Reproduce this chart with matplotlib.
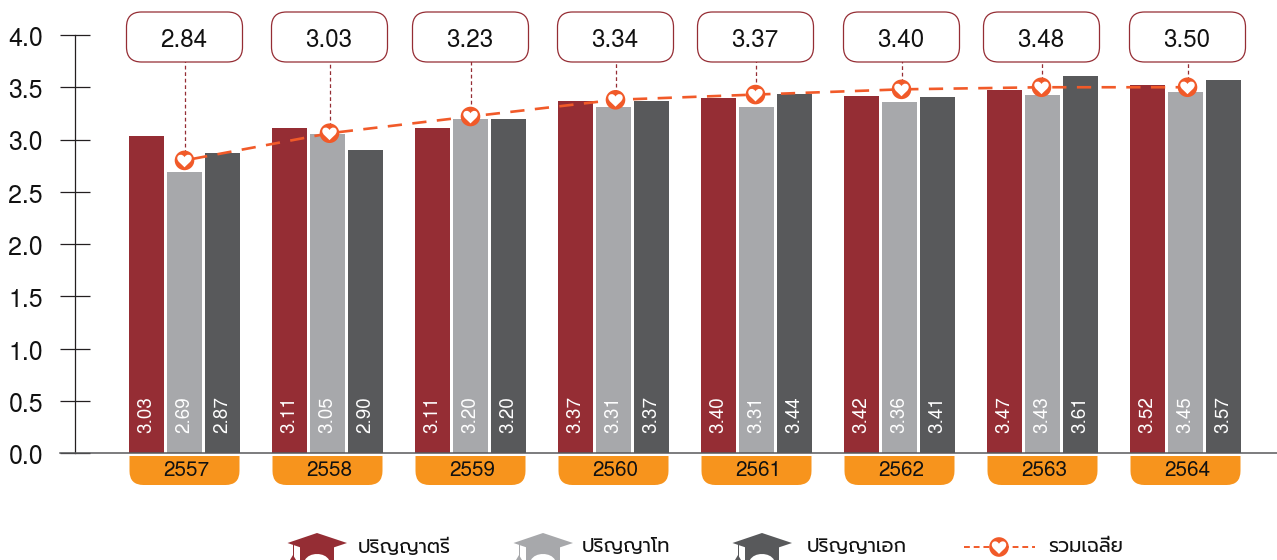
import numpy as np
import matplotlib
matplotlib.use('Agg')
import matplotlib.pyplot as plt
from matplotlib.patches import Polygon, FancyBboxPatch, Circle, PathPatch
from matplotlib.path import Path
from matplotlib.transforms import ScaledTranslation
from matplotlib import font_manager as fm

W, H = 1277, 560
years = ['2557', '2558', '2559', '2560', '2561', '2562', '2563', '2564']
bachelor = [3.03, 3.11, 3.11, 3.37, 3.40, 3.42, 3.47, 3.52]
master = [2.69, 3.05, 3.20, 3.31, 3.31, 3.36, 3.43, 3.45]
doctor = [2.87, 2.90, 3.20, 3.37, 3.44, 3.41, 3.61, 3.57]
avg_labels = [2.84, 3.03, 3.23, 3.34, 3.37, 3.40, 3.48, 3.50]
avg_points = [2.80, 3.06, 3.22, 3.38, 3.43, 3.48, 3.50, 3.50]
avg_shift = [0, 2, 0, 2, -1, 2, -1, 2]
series_names = ['ปริญญาตรี', 'ปริญญาโท', 'ปริญญาเอก', 'รวมเฉลี่ย']
yticks = [0.0, 0.5, 1.0, 1.5, 2.0, 2.5, 3.0, 3.5, 4.0]

RED, GREY, DARK, ORANGE, AMBER = '#952d34', '#a7a8ab', '#58595b', '#f15a29', '#f7941d'
INK = '#111111'
installed = {f.name for f in fm.fontManager.ttflist}
thai = next((n for n in ['Prompt', 'Anuphan', 'Noto Sans Thai', 'Sarabun', 'Kanit'] if n in installed), 'DejaVu Sans')
latin = 'TeX Gyre Heros' if 'TeX Gyre Heros' in installed else 'Liberation Sans'
plt.rcParams['font.family'] = [latin, 'Liberation Sans', 'DejaVu Sans']

fig = plt.figure(figsize=(W/100, H/100), dpi=100)
ax = fig.add_axes([75/W, (H-453)/H, (W-75)/W, (453-35)/H])
ax.set_ylim(0, 4)
ax.set_xlim((75-184.5)/143, (W-184.5)/143)
for s in ['top', 'right', 'bottom']:
    ax.spines[s].set_visible(False)
ax.spines['left'].set_color('#231f20')
ax.spines['left'].set_linewidth(0.9)
ax.set_xticks([])
ax.set_yticks(yticks, [f'{v:.1f}' for v in yticks], fontsize=18, color=INK)
ax.tick_params(axis='y', direction='inout', length=21, width=0.9, color='#231f20', pad=12.5)
down = ScaledTranslation(0, -1.5/100, fig.dpi_scale_trans)
for lbl in ax.get_yticklabels():
    lbl.set_transform(lbl.get_transform() + down)

x = np.arange(len(years))
w, off = 35/143, 38/143
for vals, c, d in [(bachelor, RED, -off), (master, GREY, 0), (doctor, DARK, off)]:
    ax.bar(x+d, vals, w, color=c, zorder=2)
    for xi, v in zip(x+d, vals):
        ax.text(xi, 0.365, f'{v:.2f}', rotation=90, ha='center', va='center', color='white', fontsize=13.6, zorder=3)

ax.plot([-15/(W-75), 1], [0, 0], transform=ax.transAxes, color='#58595b', lw=1.1, clip_on=False, zorder=4)

xs = x + np.array(avg_shift)/143
ax.plot(xs, avg_points, color=ORANGE, lw=1.9, linestyle=(6.0, (5.4, 3.95)), zorder=5)


def heart_path(cx, cy, s):
    v = [(0, -1.0), (-0.35, -0.6), (-1.05, -0.2), (-1.0, 0.3), (-0.95, 0.85), (-0.25, 0.9), (0, 0.4),
         (0.25, 0.9), (0.95, 0.85), (1.0, 0.3), (1.05, -0.2), (0.35, -0.6), (0, -1.0)]
    return Path([(cx+a*s, cy+b*s) for a, b in v], [Path.MOVETO] + [Path.CURVE4]*12)


def marker(cx, cy):
    fig.add_artist(Circle((cx, cy), 9.8, transform=None, fc=ORANGE, ec='none', zorder=8))
    fig.add_artist(PathPatch(heart_path(cx, cy+0.3, 7.2), transform=None, fc='white', ec='none', zorder=9))


for xi, yv, lab in zip(xs, avg_points, avg_labels):
    cx, cy = ax.transData.transform((xi, yv))
    ax.plot([xi, xi], [yv, 3.75], color=RED, lw=0.9, dashes=(3, 2.2), zorder=1, clip_on=False)
    fig.add_artist(FancyBboxPatch((cx-58+15, H-62+15), 116-30, 50-30, boxstyle='round,pad=15,rounding_size=15',
                                  transform=None, fc='white', ec=RED, lw=0.9, zorder=6))
    fig.text((cx-0.8)/W, 1-40.5/H, f'{lab:.2f}', ha='center', va='center', fontsize=17.5, color=INK, zorder=7)
    marker(cx, cy)


def tab(cx):
    l, r, t, b, k = cx-55, cx+55, H-456, H-485, 14
    verts = [(l, t), (r, t), (r, b+k), (r, b), (r-k, b), (l+k, b), (l, b), (l, b+k), (l, t)]
    codes = [Path.MOVETO, Path.LINETO, Path.LINETO, Path.CURVE3, Path.CURVE3, Path.LINETO, Path.CURVE3, Path.CURVE3, Path.CLOSEPOLY]
    return Path(verts, codes)


for xi, yr in zip(x, years):
    cx = ax.transData.transform((xi, 0))[0]
    fig.add_artist(PathPatch(tab(cx), transform=None, fc=AMBER, ec='none', zorder=3))
    fig.text((cx+2)/W, 1-470/H, yr, ha='center', va='center', fontsize=15, color=INK, zorder=4)


def hat(cx, c):
    fig.add_artist(Polygon([(cx-29.5, H-543), (cx, H-533), (cx+30, H-543), (cx, H-553)],
                           closed=True, transform=None, fc=c, ec='none'))
    verts = [(cx-17, H-546), (cx+17, H-546), (cx+17, H-560), (cx+12, H-560),
             (cx+8, H-552), (cx-8, H-552), (cx-12, H-560), (cx-17, H-560), (cx-17, H-546)]
    codes = [Path.MOVETO, Path.LINETO, Path.LINETO, Path.LINETO, Path.CURVE4, Path.CURVE4, Path.CURVE4,
             Path.LINETO, Path.CLOSEPOLY]
    fig.add_artist(PathPatch(Path(verts, codes), transform=None, fc=c, ec='none'))
    fig.add_artist(plt.Rectangle((cx-24.5, H-557), 1.3, 13, transform=None, fc=c, ec='none'))
    fig.add_artist(Polygon([(cx-24, H-555), (cx-21, H-560), (cx-27, H-560)], closed=True, transform=None, fc=c, ec='none'))


for cx, c, tx, name in [(317, RED, 358, series_names[0]), (543, GREY, 582, series_names[1]), (762, DARK, 807, series_names[2])]:
    hat(cx, c)
    fig.text(tx/W, 1-547.5/H, name, ha='left', va='center', fontsize=14, color=INK, family=[thai, 'DejaVu Sans'])
fig.add_artist(plt.Line2D([964, 1035], [H-547, H-547], transform=None, color=ORANGE, lw=1.4, dashes=(3, 2)))
marker(999, H-547)
fig.text(1048/W, 1-547.5/H, series_names[3], ha='left', va='center', fontsize=14, color=INK, family=[thai, 'DejaVu Sans'])

fig.savefig('out.png', dpi=100)
